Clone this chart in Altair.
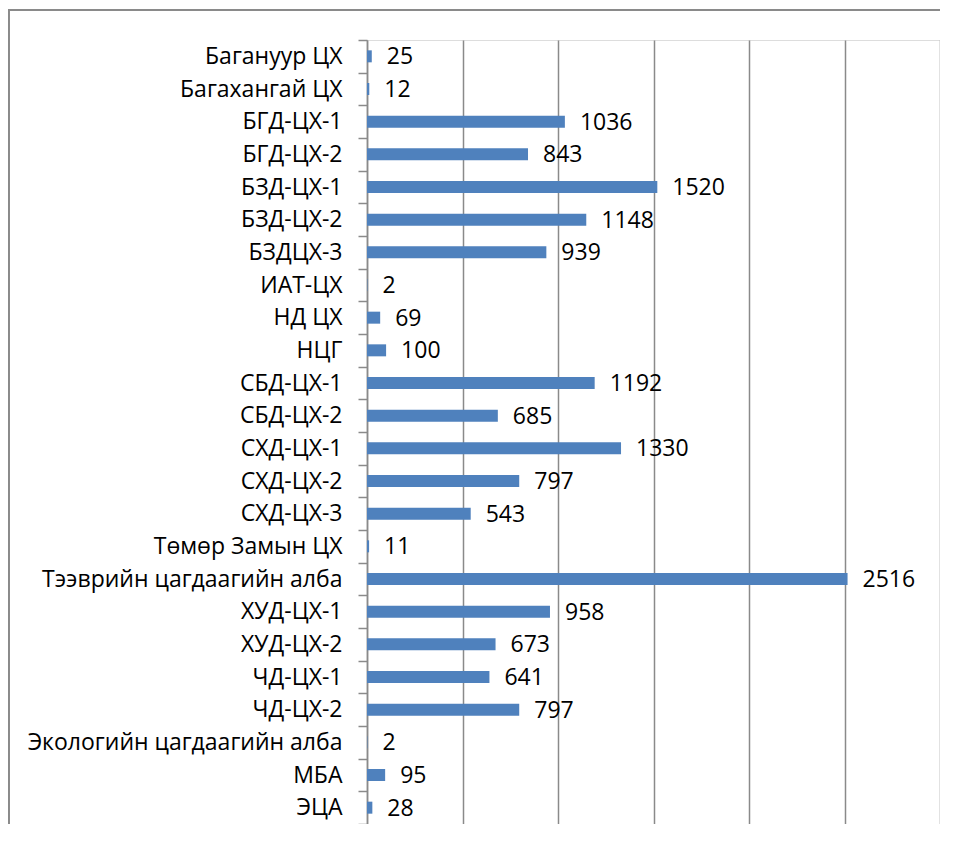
import altair as alt
import pandas as pd

categories = [
    "Багануур ЦХ", "Багахангай ЦХ", "БГД-ЦХ-1", "БГД-ЦХ-2", "БЗД-ЦХ-1",
    "БЗД-ЦХ-2", "БЗДЦХ-3", "ИАТ-ЦХ", "НД ЦХ", "НЦГ", "СБД-ЦХ-1", "СБД-ЦХ-2",
    "СХД-ЦХ-1", "СХД-ЦХ-2", "СХД-ЦХ-3", "Төмөр Замын ЦХ",
    "Тээврийн цагдаагийн алба", "ХУД-ЦХ-1", "ХУД-ЦХ-2", "ЧД-ЦХ-1", "ЧД-ЦХ-2",
    "Экологийн цагдаагийн алба", "МБА", "ЭЦА",
]
values = [25, 12, 1036, 843, 1520, 1148, 939, 2, 69, 100, 1192, 685,
          1330, 797, 543, 11, 2516, 958, 673, 641, 797, 2, 95, 28]
grid_values = [0, 500, 1000, 1500, 2000, 2500, 3000]

df = pd.DataFrame({"cat": categories, "val": values})

FONT = "Open Sans"
GRAY = "#8a8a8a"
W, H = 573, 784

x_enc = alt.X("val:Q", scale=alt.Scale(domain=[0, 3000], nice=False),
              axis=alt.Axis(values=grid_values, grid=True, labels=False, ticks=False,
                            domain=False, title=None, gridColor=GRAY, gridWidth=1.5))
y_enc = alt.Y("cat:N", sort=categories, scale=alt.Scale(paddingInner=0, paddingOuter=0),
              axis=alt.Axis(title=None, tickBand="extent", tickSize=9, tickColor=GRAY,
                            tickWidth=1.5, domainColor=GRAY, domainWidth=1.5,
                            labelPadding=16, labelFontSize=23, labelFont=FONT,
                            labelColor="black", labelLimit=0, grid=False))

base = alt.Chart(df)
bars = base.mark_bar(size=12, color="#4F81BD").encode(x=x_enc, y=y_enc)
texts = base.mark_text(align="left", baseline="middle", dx=15, dy=1,
                       fontSize=23, font=FONT, color="black").encode(
    x="val:Q", y=alt.Y("cat:N", sort=categories), text="val:Q")

frame_left = alt.Chart(df).mark_rule(color=GRAY, strokeWidth=1.5).encode(
    x=alt.value(-358.5), y=alt.value(-30), y2=alt.value(H + 60))
frame_top = alt.Chart(df).mark_rule(color=GRAY, strokeWidth=1.5).encode(
    x=alt.value(-358.5), x2=alt.value(W + 60), y=alt.value(-30))

chart = alt.layer(bars, texts, frame_left, frame_top).properties(
    width=W, height=H,
    autosize=alt.AutoSizeParams(type="none"),
    padding={"left": 359, "top": 32, "right": 0, "bottom": 0},
).configure_view(stroke=None).configure(background="white")

chart.save("out.html", embed_options={"renderer": "svg", "actions": False})
